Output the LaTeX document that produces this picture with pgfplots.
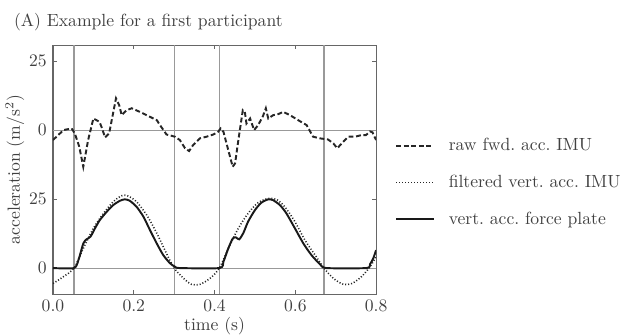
\documentclass[border=0pt]{standalone}
\usepackage{pgfplots}
\pgfplotsset{compat=1.18}
\definecolor{txt}{gray}{0.25}
\definecolor{frame}{gray}{0.40}
\definecolor{gridc}{gray}{0.60}
\begin{document}
\begin{tikzpicture}
\path[use as bounding box] (0,0) rectangle (352.7pt,-190.8pt);
\node[anchor=base west, text=txt] at (4.5pt,-15pt) {(A) Example for a first participant};
\begin{axis}[
  at={(30.1pt,-167pt)}, anchor=south west,
  width=183.5pt, height=141.4pt, scale only axis,
  xmin=0, xmax=0.8, ymin=-9.42, ymax=80.8,
  axis line style={frame, line width=0.6pt},
  xtick={0,0.2,0.4,0.6,0.8},
  xticklabel style={/pgf/number format/.cd, fixed, fixed zerofill, precision=1},
  ytick={0,25,50,75}, yticklabels={0,25,0,25},
  tick align=inside, major tick length=2.5pt,
  tick style={frame, line width=0.5pt},
  ticklabel style={text=txt},
  extra x ticks={0.052,0.300,0.412,0.671},
  extra x tick labels={},
  extra y ticks={0,50},
  extra y tick labels={},
  extra tick style={grid=major, major tick length=0pt, grid style={gridc, line width=0.6pt}},
  xlabel={time (s)}, ylabel={acceleration (m/s$^2$)},
  label style={text=txt},
  xlabel style={at={(axis description cs:0.5,-0.128)}, anchor=center},
  ylabel style={at={(axis description cs:-0.118,0.5)}, anchor=center},
  legend cell align=left,
  legend style={at={(axis description cs:1.058,0.448)}, anchor=west, draw=none, fill=none,
    inner sep=0pt, row sep=8.3pt, column sep=6pt, text=txt},
  legend image code/.code={\draw[#1] (0cm,0cm) -- (0.75cm,0cm);},
]
\addplot[black!85, line width=1.1pt, dash pattern=on 2.8pt off 1.5pt] coordinates {
(0,46.4) (0.013,48.2) (0.026,50) (0.046,50.6) (0.054,48.8) (0.065,44) (0.075,36.7)
(0.087,46.4) (0.1,54.2) (0.115,53) (0.12,51.2) (0.129,47.3) (0.139,48.8) (0.156,61.5)
(0.164,59) (0.17,55.4) (0.182,57.2) (0.195,57.9) (0.215,56.6) (0.236,55.1) (0.257,53.6)
(0.265,51.8) (0.281,48.4) (0.302,47.6) (0.314,46.4) (0.327,43.4) (0.337,42.4) (0.347,44.6)
(0.364,47) (0.38,47.6) (0.397,48.4) (0.409,49.4) (0.415,50.6) (0.422,49.4) (0.434,42.75)
(0.445,36.7) (0.451,38) (0.459,46.4) (0.47,57.2) (0.475,56.6) (0.479,52.4) (0.488,54.2)
(0.498,50) (0.508,51.8) (0.52,55.1) (0.527,57.9) (0.533,54.2) (0.545,55.4) (0.558,55.8)
(0.57,56.6) (0.587,55.4) (0.607,53.6) (0.628,51.8) (0.644,47.6) (0.661,47) (0.681,46.6)
(0.694,45.2) (0.704,43.4) (0.715,45.2) (0.731,47.6) (0.748,47.6) (0.764,48.2) (0.775,48.2)
(0.785,49.5) (0.791,49.2) (0.8,46.4)
};
\addlegendentry{raw fwd.\ acc.\ IMU}
\addplot[black!85, line width=0.9pt, dash pattern=on 0.6pt off 1.1pt, smooth] coordinates {
(0,-5.6) (0.026,-3.1) (0.052,0) (0.075,7.1) (0.1,14.4) (0.125,19.8) (0.149,24) (0.17,26.2)
(0.186,26.1) (0.207,24) (0.232,19.2) (0.257,12.6) (0.281,5.3) (0.3,0) (0.323,-3.7)
(0.343,-5.9) (0.364,-5.9) (0.389,-3.7) (0.412,0) (0.434,7.1) (0.459,14.4) (0.483,19.8)
(0.508,23.7) (0.533,25.2) (0.553,24.9) (0.574,22.2) (0.599,16.8) (0.624,10.1) (0.649,4.7)
(0.671,0) (0.694,-3.7) (0.719,-5.9) (0.74,-5.6) (0.764,-3.1) (0.785,0.5) (0.8,4.1)
};
\addlegendentry{filtered vert.\ acc.\ IMU}
\addplot[black!90, line width=1.1pt, smooth, tension=0.4] coordinates {
(0,0) (0.052,0) (0.063,2.9) (0.075,8.9) (0.083,10.4) (0.093,11.4) (0.104,14.4) (0.116,17.4)
(0.133,20.4) (0.149,22.8) (0.166,24.4) (0.178,24.9) (0.19,24.4) (0.207,22.2) (0.224,18.6)
(0.24,13.8) (0.257,8.9) (0.273,4.7) (0.29,1.7) (0.302,0.5) (0.314,0) (0.412,0) (0.422,2.3)
(0.434,7.1) (0.445,10.7) (0.453,11.1) (0.461,10.4) (0.471,12.6) (0.483,16.8) (0.5,21)
(0.516,23.7) (0.533,24.9) (0.545,24.6) (0.562,22.8) (0.578,19.8) (0.599,14.4) (0.62,8.9)
(0.64,4.7) (0.661,1.4) (0.677,0) (0.776,0) (0.785,1.4) (0.793,3.5) (0.8,6.5)
};
\addlegendentry{vert.\ acc.\ force plate}
\end{axis}
\end{tikzpicture}
\end{document}
